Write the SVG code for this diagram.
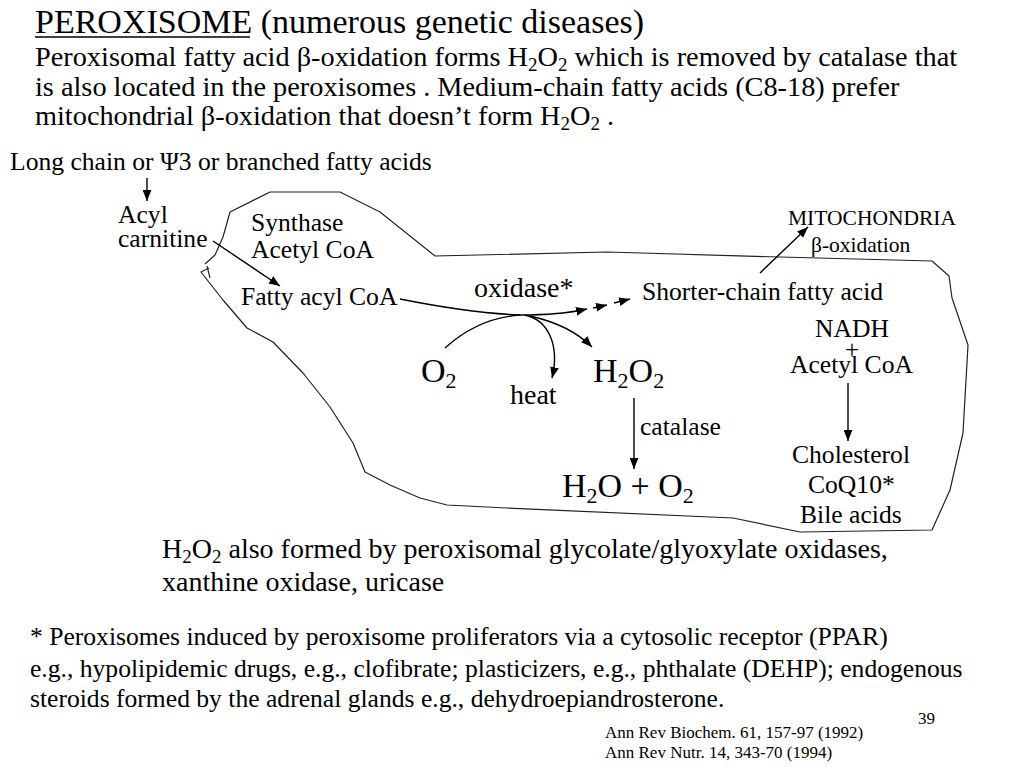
<svg xmlns="http://www.w3.org/2000/svg" width="1024" height="768" viewBox="0 0 1024 768">
<defs>
<style>
text{font-family:"Liberation Serif","Times New Roman",serif;fill:#000}
.t34{font-size:34px}.t28{font-size:28px}.th{font-size:28.3px}.t26{font-size:25.6px}.t21{font-size:21.5px}.t17{font-size:17px}
.ln{fill:none;stroke:#000;stroke-width:1.4}
.ol{fill:none;stroke:#222;stroke-width:1.2;stroke-linejoin:round}
</style>
<marker id="ah" viewBox="0 0 10 8" refX="10" refY="4" markerWidth="11" markerHeight="9" markerUnits="userSpaceOnUse" orient="auto">
<path d="M0,0 L10,4 L0,8 Z" fill="#000"/>
</marker>
</defs>
<rect width="1024" height="768" fill="#fff"/>

<g id="header">
<text class="t34" x="35" y="33">PEROXISOME (numerous genetic diseases)</text>
<line x1="35" y1="37" x2="250" y2="37" stroke="#000" stroke-width="1.6"/>
<text class="th" x="35" y="66">Peroxisomal fatty acid β-oxidation forms H<tspan font-size="19" dy="5">2</tspan><tspan dy="-5">O</tspan><tspan font-size="19" dy="5">2</tspan><tspan dy="-5"> which is removed by catalase that</tspan></text>
<text class="th" x="35" y="96">is also located in the peroxisomes . Medium-chain fatty acids (C8-18) prefer</text>
<text class="th" x="35" y="125">mitochondrial β-oxidation that doesn’t form H<tspan font-size="19" dy="5">2</tspan><tspan dy="-5">O</tspan><tspan font-size="19" dy="5">2</tspan><tspan dy="-5"> .</tspan></text>
</g>

<g id="peroxisome-outline">
<path class="ol" d="M205,264 L215,255 L223,237 L230,212 L270,192 L340,192 L380,212 L435,256 L607,252 L780,257 L932,261 L949,276 L952,298 L968,345 L963,433 L950,490 L932,530 L800,532 L733,518 L507,508 L447,505 L420,498 L390,485 L365,472 L353,443 L330,407 L303,373 L273,342 L247,328 L223,300 L201,272 L209,268"/>
<path class="ol" d="M207,266 L210,278"/>
</g>

<g id="connectors">
<path class="ln" d="M147,178 L147,201" marker-end="url(#ah)"/>
<path class="ln" d="M213,241 L280,286" marker-end="url(#ah)"/>
<path class="ln" d="M400,299 Q470,313 520,315 Q560,315 587,309" marker-end="url(#ah)"/>
<path class="ln" d="M593,308 L607,305" marker-end="url(#ah)"/>
<path class="ln" d="M614,303 L630,299" marker-end="url(#ah)"/>
<path class="ln" d="M445,348 Q478,318 520,315"/>
<path class="ln" d="M525,315 C548,320 560,345 552,378" marker-end="url(#ah)"/>
<path class="ln" d="M530,316 Q570,325 592,347" marker-end="url(#ah)"/>
<path class="ln" d="M634,398 L634,469" marker-end="url(#ah)"/>
<path class="ln" d="M760,273 L808,227" marker-end="url(#ah)"/>
<path class="ln" d="M848,383 L848,441" marker-end="url(#ah)"/>
</g>

<g id="long-chain"><text class="t26" x="10" y="170">Long chain or Ψ3 or branched fatty acids</text></g>
<g id="acyl-carnitine"><text class="t26" x="118" y="223">Acyl</text><text class="t26" x="118" y="247">carnitine</text></g>
<g id="synthase"><text class="t26" x="251" y="231">Synthase</text><text class="t26" x="251" y="258">Acetyl CoA</text></g>
<g id="fatty-acyl-coa"><text class="t26" x="241" y="305">Fatty acyl CoA</text></g>
<g id="oxidase"><text class="t28" x="474" y="297">oxidase*</text></g>
<g id="shorter-chain"><text class="t26" x="642" y="300">Shorter-chain fatty acid</text></g>
<g id="mitochondria"><text class="t21" x="788" y="225">MITOCHONDRIA</text><text class="t21" x="811" y="252">β-oxidation</text></g>
<g id="nadh"><text class="t26" x="815" y="337">NADH</text><text class="t26" x="852" y="358" text-anchor="middle">+</text><text class="t26" x="790" y="373">Acetyl CoA</text></g>
<g id="o2"><text class="t34" x="421" y="382">O<tspan font-size="22" dy="6">2</tspan></text></g>
<g id="heat"><text class="t28" x="510" y="404">heat</text></g>
<g id="h2o2"><text class="t34" x="593" y="382">H<tspan font-size="22" dy="6">2</tspan><tspan dy="-6">O</tspan><tspan font-size="22" dy="6">2</tspan></text></g>
<g id="catalase"><text class="t26" x="640" y="435">catalase</text></g>
<g id="h2o-o2"><text class="t34" x="562" y="497">H<tspan font-size="22" dy="6">2</tspan><tspan dy="-6">O + O</tspan><tspan font-size="22" dy="6">2</tspan></text></g>
<g id="cholesterol"><text class="t26" x="792" y="463">Cholesterol</text><text class="t26" x="808" y="493">CoQ10*</text><text class="t26" x="800" y="523">Bile acids</text></g>

<g id="footer">
<text class="t28" x="162" y="558">H<tspan font-size="19" dy="5">2</tspan><tspan dy="-5">O</tspan><tspan font-size="19" dy="5">2</tspan><tspan dy="-5"> also formed by peroxisomal glycolate/glyoxylate oxidases,</tspan></text>
<text class="t28" x="162" y="591">xanthine oxidase, uricase</text>
<text class="t26" x="30" y="645">* Peroxisomes induced by peroxisome proliferators via a cytosolic receptor (PPAR)</text>
<text class="t26" x="30" y="677">e.g., hypolipidemic drugs, e.g., clofibrate; plasticizers, e.g., phthalate (DEHP); endogenous</text>
<text class="t26" x="30" y="707">steroids formed by the adrenal glands e.g., dehydroepiandrosterone.</text>
<text class="t17" x="918" y="724">39</text>
<text class="t17" x="605" y="738">Ann Rev Biochem. 61, 157-97 (1992)</text>
<text class="t17" x="605" y="758">Ann Rev Nutr. 14, 343-70 (1994)</text>
</g>
</svg>
